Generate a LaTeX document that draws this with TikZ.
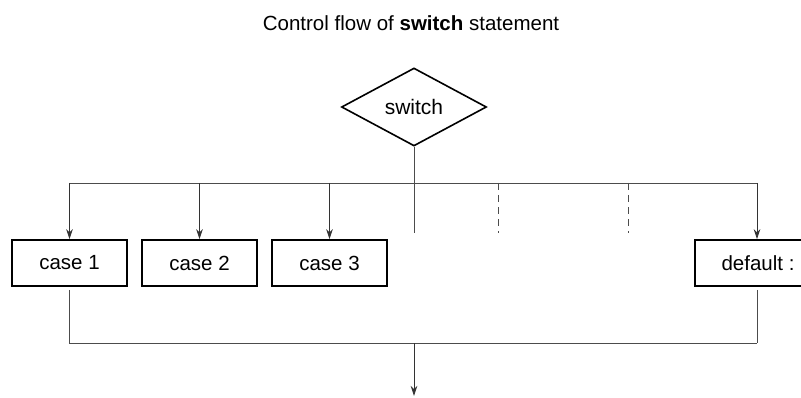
\documentclass[tikz,border=0pt]{standalone}
\usepackage{fontspec}
\setmainfont{Liberation Sans}
\usetikzlibrary{shapes.geometric,arrows.meta}
\tikzset{
  casebox/.style={draw, line width=1.6pt, minimum width=115pt, minimum height=46pt, inner sep=0pt, font=\fontsize{20.5}{24}\selectfont},
  flow/.style={draw, line width=0.9pt, black!70},
  flowtip/.style={flow, -{Stealth[length=10pt,width=6.5pt]}, black!80}
}
\begin{document}
\begin{tikzpicture}[x=1pt,y=1pt]
    \clip (0,0) rectangle (801,397);
    \node (title) at (411,374) {\fontsize{20.5}{24}\selectfont Control flow of \textbf{switch} statement};
    \node[diamond, draw, line width=1.6pt, minimum width=145pt, minimum height=78pt, inner sep=0pt, font=\fontsize{21}{24}\selectfont] (switch) at (414,290) {switch};

    \node[casebox] (case1) at (69.5,134) {case 1};
    \node[casebox] (case2) at (199.5,134) {case 2};
    \node[casebox] (case3) at (329.5,134) {case 3};
    \node[casebox, minimum width=140pt] (default) at (765,134) {default :\hspace*{14pt}};

    \coordinate (bus) at (414,214);
    \coordinate (stub) at (414,164);
    \coordinate (gap1) at (498,164);
    \coordinate (gap2) at (628,164);
    \coordinate (drop) at (757,164);
    \coordinate (join) at (414,54);
    \coordinate (exit) at (414,1);

    % branches
    \path[flow] (case1 |- bus) -- (drop |- bus);
    \path[flow] (switch.south) -- (stub);
    \foreach \c in {case1,case2,case3}
      \path[flowtip] (\c |- bus) -- (\c.north);
    \path[flowtip] (drop |- bus) -- (drop |- default.north);
    \foreach \g in {gap1,gap2}
      \path[flow, dash pattern=on 7pt off 5pt] (\g |- bus) -- (\g);

    % back together
    \path[flow, shorten <=3pt] (case1.south) -- (case1 |- join) -- (drop |- join);
    \path[flow, shorten <=3pt] (drop |- default.south) -- (drop |- join);
    \path[flowtip] (join) -- (exit);
\end{tikzpicture}
\end{document}
